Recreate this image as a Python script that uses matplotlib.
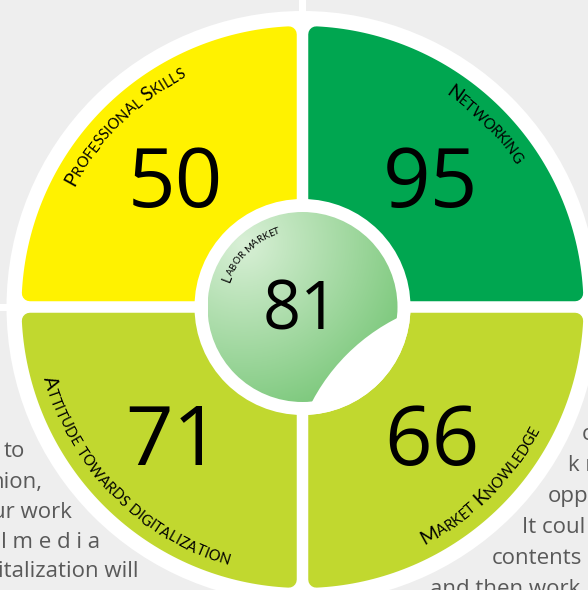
import numpy as np
import matplotlib
matplotlib.use('Agg')
import matplotlib.pyplot as plt
from matplotlib.patches import Circle, Polygon, Rectangle
from matplotlib.font_manager import FontProperties

# ---- data ----
categories = ["Professional Skills", "Networking",
              "Attitude towards digitalization", "Market Knowledge"]
scores = [50, 95, 71, 66]
center_label = "Labor market"
center_score = 81
quad_colors = ["#FFF200", "#00A650", "#C1D82F", "#C1D82F"]

left_lines = ["to", "hion,", "ur work", "a l m e d i a", "italization will"]
right_lines = ["c", "k r", "opp", "It coul", "contents", "and then work"]

# ---- layout (pixel coords, y down) ----
W, H = 588, 590
CX, CY = 302.5, 307.0
R_OUT, R_Q, R_RING, R_MID = 296, 281, 108, 95
BG = "#EEEEEE"

quad_dirs = [(-1, -1), (1, -1), (-1, 1), (1, 1)]
score_pos = [(175, 207), (430, 207), (173, 465), (432, 465)]
# start angle, end angle, baseline radius, tops outward?
arc_specs = [(151, 117.7, 258, True), (54.6, 35, 256, True),
             (196.8, 252.8, 269, False), (299, 331.7, 267, False)]
left_pos = [(25, 457), (42, 488), (72, 518), (100, 548), (138, 577)]
right_pos = [(582, 440), (568, 471), (548, 502), (522, 533), (492, 564), (430, 595)]

fig = plt.figure(figsize=(W / 100, H / 100), dpi=100, facecolor=BG)
ax = fig.add_axes([0, 0, 1, 1])
ax.set_facecolor(BG)
ax.axis('off')
rend = fig.canvas.get_renderer()

# text behind the circle
for s, (x, y) in zip(left_lines, left_pos):
    ax.text(x, y, s, ha='right', va='baseline', fontsize=16,
            family='Open Sans', color='#595959', zorder=1)
for s, (x, y) in zip(right_lines, right_pos):
    ax.text(x, y, s, ha='left', va='baseline', fontsize=16,
            family='Open Sans', color='#595959', zorder=1)

# white disc and bars
ax.add_patch(Circle((CX, CY), R_OUT, fc='white', ec='none', zorder=2))
ax.add_patch(Rectangle((CX - 3.2, 0), 6.4, H, fc='white', ec='none', zorder=2))
ax.add_patch(Rectangle((0, CY - 3.5), W, 7, fc='white', ec='none', zorder=2))


def quadrant(sx, sy, color):
    rr = 8
    off = 5.75 + rr
    rin = R_Q - rr
    a0 = np.arcsin(off / rin)
    t = np.linspace(a0, np.pi / 2 - a0, 80)
    pts = [(CX + sx * off, CY + sy * off)]
    pts += list(zip(CX + sx * rin * np.cos(t), CY + sy * rin * np.sin(t)))
    ax.add_patch(Polygon(pts, closed=True, fc=color, ec=color,
                         lw=2 * rr * 0.72, joinstyle='round', zorder=3))


for (sx, sy), c in zip(quad_dirs, quad_colors):
    quadrant(sx, sy, c)

# centre
ax.add_patch(Circle((CX, CY), R_RING, fc='white', ec='none', zorder=4))
n = 400
xs = np.linspace(CX - R_MID, CX + R_MID, n)
ys = np.linspace(CY - R_MID, CY + R_MID, n)
X, Y = np.meshgrid(xs, ys)
d = np.clip(np.hypot(X - 243, Y - 243) / 195, 0, 1)
c0 = np.array([0.85, 0.94, 0.84])
c1 = np.array([0.45, 0.77, 0.45])
img = c0 + (c1 - c0) * d[..., None]
im = ax.imshow(img, extent=(xs[0], xs[-1], ys[-1], ys[0]), origin='upper',
               zorder=5, interpolation='bilinear')
im.set_clip_path(Circle((CX, CY), R_MID, transform=ax.transData))
curl = Circle((485.5, 493), 196, fc='white', ec='none', zorder=6)
ax.add_patch(curl)
curl.set_clip_path(Circle((CX, CY), R_RING, transform=ax.transData))


def arc_text(label, a_start, a_end, rb, outward, big, small):
    sizes, widths = [], []
    for ch in label:
        size = big if ch.isupper() else small
        prop = FontProperties(family='Lato', size=size)
        if ch == ' ':
            w = 0.3 * size * 100 / 72
        else:
            w = rend.get_text_width_height_descent(ch.upper(), prop, ismath=False)[0]
        sizes.append(size)
        widths.append(w)
    widths = np.array(widths)
    L = np.radians(abs(a_end - a_start)) * rb
    k = len(label)
    track = (L - (widths.sum() - widths[0] / 2 - widths[-1] / 2)) / (k - 1)
    s = np.cumsum(widths) - widths / 2 - widths[0] / 2 + np.arange(k) * track
    sign = -1 if outward else 1
    for ch, size, si in zip(label, sizes, s):
        phi = a_start + sign * np.degrees(si / rb)
        x = CX + rb * np.cos(np.radians(phi))
        y = CY - rb * np.sin(np.radians(phi))
        rot = phi - 90 if outward else phi + 90
        ax.text(x, y, ch.upper(), fontsize=size, family='Lato', color='black',
                ha='center', va='baseline', rotation=rot,
                rotation_mode='anchor', zorder=7)


for lab, (a0, a1, rb, out) in zip(categories, arc_specs):
    arc_text(lab, a0, a1, rb, out, 14, 10.5)
arc_text(center_label, 159, 109, 77, True, 10, 7)

for v, (x, y) in zip(scores, score_pos):
    ax.text(x, y, str(v), ha='center', va='baseline', fontsize=60,
            family='Open Sans', color='black', zorder=7)
ax.text(301, 330, str(center_score), ha='center', va='baseline', fontsize=48,
        family='Open Sans', color='black', zorder=7)

ax.set_xlim(0, W)
ax.set_ylim(H, 0)
ax.set_aspect('auto')
fig.savefig('out.png', dpi=100, facecolor=BG)
